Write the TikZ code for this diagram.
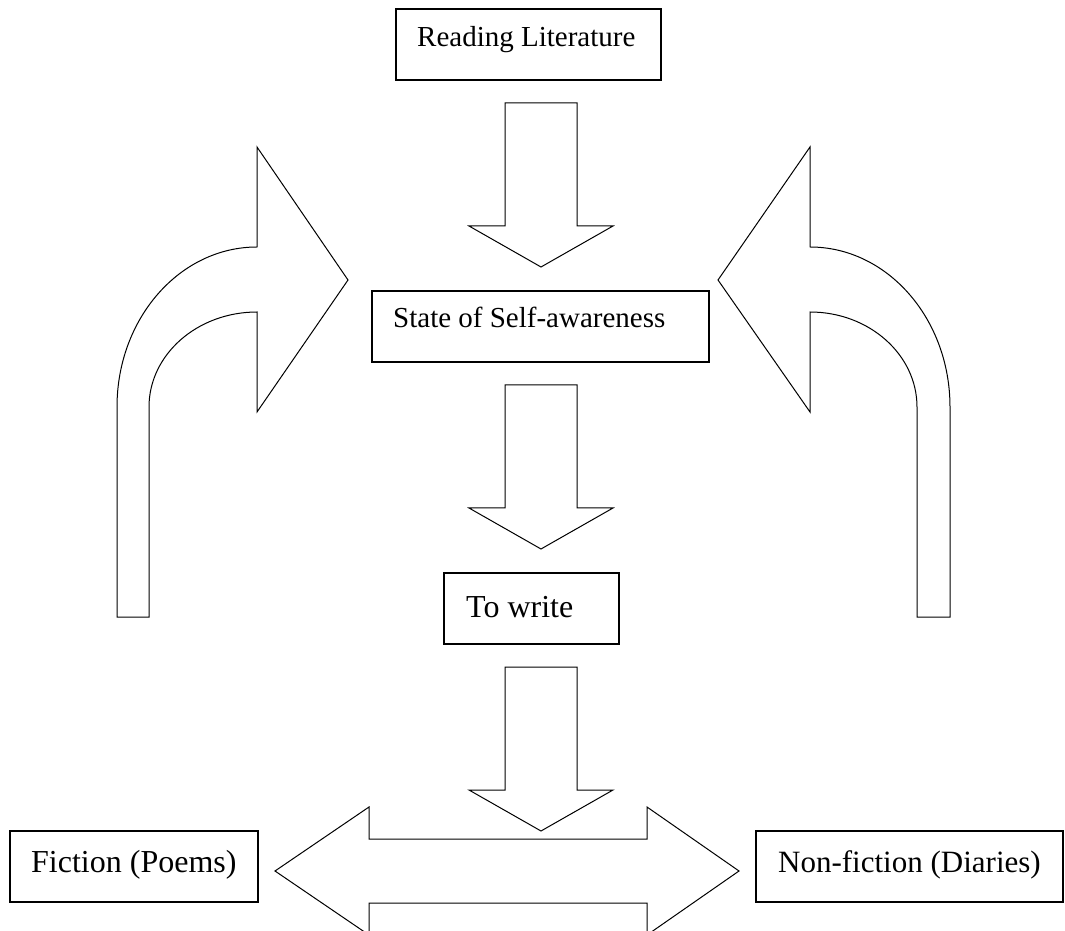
\documentclass[tikz,border=0pt]{standalone}
\usepackage{fontspec}
\setmainfont{Liberation Serif}
\begin{document}
\begin{tikzpicture}[x=1pt,y=1pt,
  box/.style={draw,line width=1.3pt,rectangle,inner sep=0pt,minimum height=71pt},
  lbl/.style={anchor=base west,inner sep=0pt,font=\fontsize{29}{33}\selectfont},
  biglbl/.style={anchor=base west,inner sep=0pt,font=\fontsize{32}{36}\selectfont},
  blockarrow/.style={draw,line width=1pt,line join=miter}]

\useasboundingbox (0,0) rectangle (1065,930);
\clip (0,0) rectangle (1065,930);

\node [box,minimum width=265pt] at (528.5,885.5) (read) {};
\node [lbl] at (417,883) (readtxt) {Reading Literature};

\node [box,minimum width=337pt] at (540.5,603.5) (self) {};
\node [lbl] at (393,602) (selftxt) {State of Self-awareness};

\node [box,minimum width=175pt] at (531.5,321.5) (write) {};
\node [biglbl] at (466,313) (writetxt) {To write};

\node [box,minimum width=248pt] at (134,63.5) (fict) {};
\node [biglbl] at (31,58) (ficttxt) {Fiction (Poems)};

\node [box,minimum width=307pt] at (909.5,63.5) (nonfict) {};
\node [biglbl,font=\fontsize{31}{35}\selectfont] at (778,58) (nonfricttxt) {Non-fiction (Diaries)};

\foreach \t in {827,545,263}
  \draw [blockarrow] (505,\t) -- (577,\t) -- (577,\t-123) -- (613,\t-123)
    -- (541,\t-164) -- (469,\t-123) -- (505,\t-123) -- cycle;

\draw [blockarrow] (149,313) -- (149,523)
  arc [start angle=180,end angle=90,x radius=108,y radius=95]
  -- (257,518) -- (348,650) -- (257,783) -- (257,683)
  arc [start angle=90,end angle=180,x radius=140,y radius=160]
  -- (117,313) -- cycle;

\draw [blockarrow] (917,313) -- (917,523)
  arc [start angle=0,end angle=90,x radius=107,y radius=95]
  -- (810,518) -- (718,650) -- (810,783) -- (810,683)
  arc [start angle=90,end angle=0,x radius=140,y radius=160]
  -- (950,313) -- cycle;

\draw [blockarrow] (275,59) -- (369,123) -- (369,91) -- (647,91) -- (647,123)
  -- (739,59) -- (647,-5) -- (647,27) -- (369,27) -- (369,-5) -- cycle;

\end{tikzpicture}
\end{document}
